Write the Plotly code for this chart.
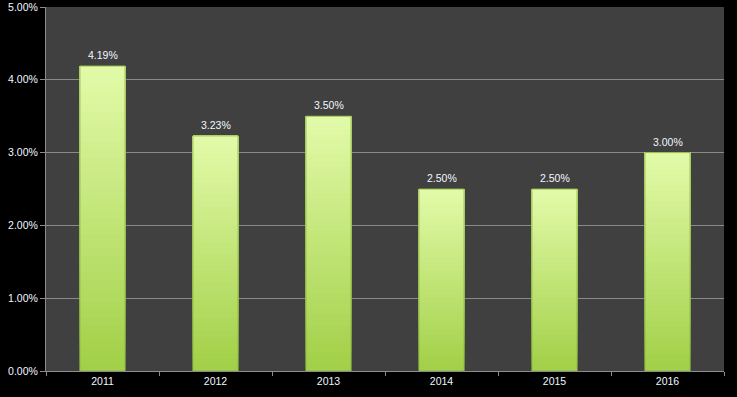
import plotly.graph_objects as go

years = ["2011", "2012", "2013", "2014", "2015", "2016"]
rates = [0.0419, 0.0323, 0.0350, 0.0250, 0.0250, 0.0300]
labels = ["4.19%", "3.23%", "3.50%", "2.50%", "2.50%", "3.00%"]

N = 40
top = (226, 250, 168)
bot = (162, 208, 72)

fig = go.Figure()
for k in range(N):
    f = k / (N - 1)
    c = tuple(round(bot[j] + (top[j] - bot[j]) * f) for j in range(3))
    fig.add_trace(go.Bar(
        x=years, y=[r * (1 - k / N) for r in rates], base=[r * k / N for r in rates],
        marker=dict(color="rgb(%d,%d,%d)" % c, line=dict(width=0)),
        width=0.4, showlegend=False, hoverinfo="skip"))

fig.add_trace(go.Bar(
    x=years, y=rates, base=0, width=0.4,
    marker=dict(color="rgba(0,0,0,0)", line=dict(color="rgba(140,182,66,0.95)", width=1)),
    showlegend=False, hoverinfo="skip"))

for i, (r, lab) in enumerate(zip(rates, labels)):
    fig.add_annotation(x=i, y=r, text=lab, showarrow=False, yanchor="bottom",
                       yshift=3, font=dict(color="#f2f6ff", size=10.5,
                                           family="Liberation Sans, Arial"))

fig.update_layout(
    barmode="overlay",
    width=737, height=397,
    paper_bgcolor="black", plot_bgcolor="#404040",
    margin=dict(l=46, r=13, t=7, b=26),
    font=dict(family="Liberation Sans, Arial", size=10.5, color="#f2f6ff"),
    xaxis=dict(type="category", range=[-0.5, len(years) - 0.5],
               tickson="boundaries", ticks="outside", ticklen=4,
               tickcolor="#8c8c8c", showline=True, linecolor="#8c8c8c", linewidth=1,
               showgrid=False, automargin=False),
    yaxis=dict(range=[0, 0.05], tickvals=[0, 0.01, 0.02, 0.03, 0.04, 0.05],
               tickformat=".2%", gridcolor="#8a8a8a", gridwidth=1,
               showline=True, linecolor="#8c8c8c", ticks="outside", ticklen=5,
               tickcolor="#8c8c8c", zeroline=False, automargin=False),
)
fig.write_html("out.html", config={"displayModeBar": False},
               post_script="document.body.style.margin='0';document.body.style.background='black';")
